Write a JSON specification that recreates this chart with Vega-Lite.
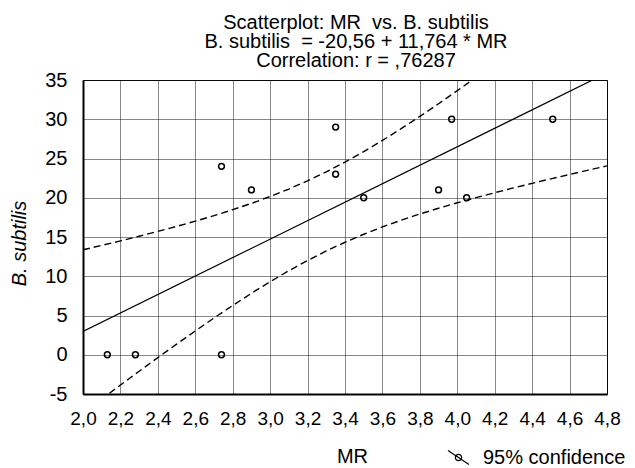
{
  "$schema": "https://vega.github.io/schema/vega-lite/v6.json",
  "width": 524,
  "height": 314,
  "autosize": {"type": "none"},
  "padding": {"left": 83, "top": 80, "right": 28, "bottom": 74},
  "background": "white",
  "config": {
    "locale": {"number": {"decimal": ",", "thousands": ".", "grouping": [3], "currency": ["", ""], "minus": "-"}},
    "font": "Liberation Sans",
    "view": {"stroke": "#000", "strokeWidth": 1}
  },
  "title": {
    "text": ["Scatterplot: MR\u00a0 vs. B. subtilis", "B. subtilis\u00a0 = -20,56 + 11,764 * MR", "Correlation: r = ,76287"],
    "font": "Liberation Sans",
    "fontSize": 20,
    "fontWeight": "normal",
    "lineHeight": 19,
    "anchor": "middle",
    "dx": 11,
    "dy": 2,
    "offset": 1,
    "color": "#000"
  },
  "datasets": {
    "points": [
      {"MR": 2.13, "Bsub": 0}, {"MR": 2.28, "Bsub": 0}, {"MR": 2.74, "Bsub": 0},
      {"MR": 2.74, "Bsub": 24}, {"MR": 2.90, "Bsub": 21}, {"MR": 3.35, "Bsub": 29},
      {"MR": 3.35, "Bsub": 23}, {"MR": 3.50, "Bsub": 20}, {"MR": 3.97, "Bsub": 30},
      {"MR": 3.90, "Bsub": 21}, {"MR": 4.05, "Bsub": 20}, {"MR": 4.51, "Bsub": 30}
    ],
    "fit": [
      {"MR": 2.0, "Bsub": 2.968}, {"MR": 4.8, "Bsub": 35.907}
    ],
    "band": [
      {"MR": 2.0, "Bsub": 13.37, "bound": "upper"}, {"MR": 2.1, "Bsub": 13.93, "bound": "upper"},
      {"MR": 2.2, "Bsub": 14.50, "bound": "upper"}, {"MR": 2.3, "Bsub": 15.10, "bound": "upper"},
      {"MR": 2.4, "Bsub": 15.71, "bound": "upper"}, {"MR": 2.5, "Bsub": 16.35, "bound": "upper"},
      {"MR": 2.6, "Bsub": 17.02, "bound": "upper"}, {"MR": 2.7, "Bsub": 17.72, "bound": "upper"},
      {"MR": 2.8, "Bsub": 18.48, "bound": "upper"}, {"MR": 2.9, "Bsub": 19.28, "bound": "upper"},
      {"MR": 3.0, "Bsub": 20.16, "bound": "upper"}, {"MR": 3.1, "Bsub": 21.11, "bound": "upper"},
      {"MR": 3.2, "Bsub": 22.16, "bound": "upper"}, {"MR": 3.3, "Bsub": 23.30, "bound": "upper"},
      {"MR": 3.4, "Bsub": 24.54, "bound": "upper"}, {"MR": 3.5, "Bsub": 25.88, "bound": "upper"},
      {"MR": 3.6, "Bsub": 27.30, "bound": "upper"}, {"MR": 3.7, "Bsub": 28.80, "bound": "upper"},
      {"MR": 3.8, "Bsub": 30.36, "bound": "upper"}, {"MR": 3.9, "Bsub": 31.98, "bound": "upper"},
      {"MR": 4.0, "Bsub": 33.64, "bound": "upper"}, {"MR": 4.1, "Bsub": 35.33, "bound": "upper"},
      {"MR": 4.2, "Bsub": 37.05, "bound": "upper"}, {"MR": 4.3, "Bsub": 38.80, "bound": "upper"},
      {"MR": 2.0, "Bsub": -7.43, "bound": "lower"}, {"MR": 2.1, "Bsub": -5.64, "bound": "lower"},
      {"MR": 2.2, "Bsub": -3.86, "bound": "lower"}, {"MR": 2.3, "Bsub": -2.10, "bound": "lower"},
      {"MR": 2.4, "Bsub": -0.36, "bound": "lower"}, {"MR": 2.5, "Bsub": 1.35, "bound": "lower"},
      {"MR": 2.6, "Bsub": 3.03, "bound": "lower"}, {"MR": 2.7, "Bsub": 4.68, "bound": "lower"},
      {"MR": 2.8, "Bsub": 6.28, "bound": "lower"}, {"MR": 2.9, "Bsub": 7.83, "bound": "lower"},
      {"MR": 3.0, "Bsub": 9.31, "bound": "lower"}, {"MR": 3.1, "Bsub": 10.70, "bound": "lower"},
      {"MR": 3.2, "Bsub": 12.01, "bound": "lower"}, {"MR": 3.3, "Bsub": 13.22, "bound": "lower"},
      {"MR": 3.4, "Bsub": 14.33, "bound": "lower"}, {"MR": 3.5, "Bsub": 15.35, "bound": "lower"},
      {"MR": 3.6, "Bsub": 16.28, "bound": "lower"}, {"MR": 3.7, "Bsub": 17.14, "bound": "lower"},
      {"MR": 3.8, "Bsub": 17.93, "bound": "lower"}, {"MR": 3.9, "Bsub": 18.66, "bound": "lower"},
      {"MR": 4.0, "Bsub": 19.36, "bound": "lower"}, {"MR": 4.1, "Bsub": 20.01, "bound": "lower"},
      {"MR": 4.2, "Bsub": 20.64, "bound": "lower"}, {"MR": 4.3, "Bsub": 21.25, "bound": "lower"},
      {"MR": 4.4, "Bsub": 21.84, "bound": "lower"}, {"MR": 4.5, "Bsub": 22.41, "bound": "lower"},
      {"MR": 4.6, "Bsub": 22.97, "bound": "lower"}, {"MR": 4.7, "Bsub": 23.52, "bound": "lower"},
      {"MR": 4.8, "Bsub": 24.06, "bound": "lower"}
    ]
  },
  "encoding": {
    "x": {
      "field": "MR", "type": "quantitative",
      "scale": {"domain": [2.0, 4.8], "nice": false, "zero": false},
      "axis": {
        "values": [2, 2.2, 2.4, 2.6, 2.8, 3, 3.2, 3.4, 3.6, 3.8, 4, 4.2, 4.4, 4.6, 4.8],
        "format": ".1f",
        "title": "MR",
        "grid": true, "gridColor": "#111", "gridDash": [1, 1], "gridWidth": 1, "gridOpacity": 1,
        "ticks": false,
        "labelFont": "Liberation Sans", "labelFontSize": 19, "labelColor": "#000",
        "labelPadding": 15, "labelDx": -4, "labelFlush": false, "labelOverlap": false,
        "domainColor": "#000", "domainWidth": 2,
        "titleFont": "Liberation Sans", "titleFontSize": 20, "titleFontWeight": "normal", "titleColor": "#000",
        "titleX": 269, "titleY": 68, "titleBaseline": "alphabetic"
      }
    },
    "y": {
      "field": "Bsub", "type": "quantitative",
      "scale": {"domain": [-5, 35], "nice": false, "zero": false},
      "axis": {
        "values": [-5, 0, 5, 10, 15, 20, 25, 30, 35],
        "title": "B. subtilis",
        "grid": true, "gridColor": "#111", "gridDash": [1, 1], "gridWidth": 1, "gridOpacity": 1,
        "ticks": false,
        "labelFont": "Liberation Sans", "labelFontSize": 20, "labelColor": "#000",
        "labelPadding": 16, "labelDy": 2, "labelFlush": false, "labelOverlap": false,
        "domainColor": "#000", "domainWidth": 2,
        "titleFont": "Liberation Sans", "titleFontSize": 20, "titleFontWeight": "normal", "titleFontStyle": "italic", "titleColor": "#000",
        "titleX": -58, "titleY": 163, "titleBaseline": "alphabetic"
      }
    }
  },
  "layer": [
    {
      "data": {"name": "band"},
      "mark": {"type": "line", "color": "#000", "strokeWidth": 1.4, "strokeDash": [7, 4], "clip": true},
      "encoding": {"detail": {"field": "bound"}}
    },
    {
      "data": {"name": "fit"},
      "mark": {"type": "line", "color": "#000", "strokeWidth": 1.2, "clip": true},
      "encoding": {}
    },
    {
      "data": {"name": "points"},
      "mark": {"type": "point", "filled": false, "size": 34, "strokeWidth": 1.5, "opacity": 1},
      "encoding": {
        "color": {
          "datum": "95% confidence",
          "scale": {"range": ["#000"]},
          "legend": {
            "title": null,
            "orient": "none",
            "legendX": 364,
            "legendY": 366,
            "padding": 0,
            "symbolType": "M-1,-0.67L1,0.67M0.3,0A0.3,0.3 0 1,1 -0.3,0A0.3,0.3 0 1,1 0.3,0",
            "symbolSize": 441,
            "symbolStrokeWidth": 1.2,
            "symbolStrokeColor": "#000",
            "labelFont": "Liberation Sans",
            "labelFontSize": 20,
            "labelColor": "#000",
            "labelOffset": 13
          }
        }
      }
    }
  ]
}
